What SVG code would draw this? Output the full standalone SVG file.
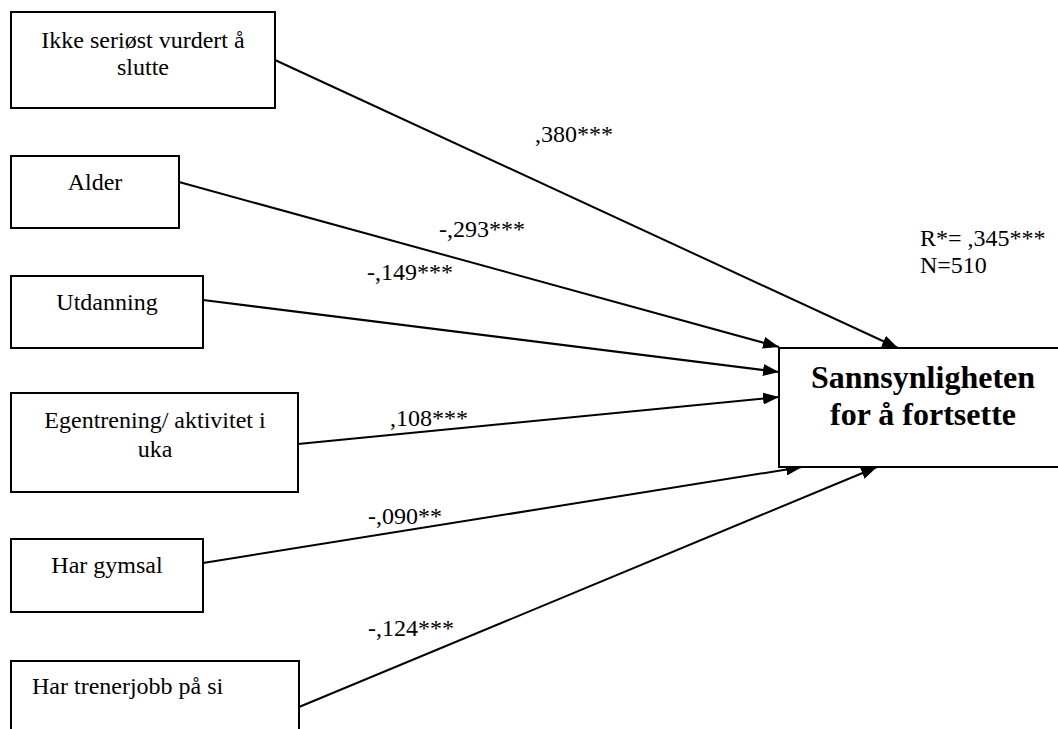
<svg xmlns="http://www.w3.org/2000/svg" width="1058" height="729" viewBox="0 0 1058 729">
  <style>
    .box { fill: #ffffff; stroke: #000000; stroke-width: 2; }
    .lbl { font-family: "Liberation Serif", "Times New Roman", serif; font-size: 24px; fill: #000000; }
    .mid { text-anchor: middle; }
    .big { font-family: "Liberation Serif", "Times New Roman", serif; font-size: 32px; font-weight: bold; text-anchor: middle; fill: #000000; }
    .edge { stroke: #000000; stroke-width: 2; fill: none; marker-end: url(#head); }
  </style>
  <defs>
    <marker id="head" viewBox="0 0 16 12" refX="16" refY="6" markerWidth="16" markerHeight="12" markerUnits="userSpaceOnUse" orient="auto">
      <path d="M0,0 L16,6 L0,12 Z" fill="#000000"/>
    </marker>
  </defs>
  <rect width="1058" height="729" fill="#ffffff"/>

  <g id="connectors">
    <line class="edge" x1="275" y1="60" x2="898" y2="348"/>
    <line class="edge" x1="179" y1="182" x2="779" y2="347"/>
    <line class="edge" x1="203" y1="300" x2="779" y2="372"/>
    <line class="edge" x1="298" y1="444" x2="779" y2="397"/>
    <line class="edge" x1="203" y1="563" x2="802" y2="467"/>
    <line class="edge" x1="299" y1="707" x2="877" y2="467"/>
  </g>

  <g id="coefficients">
    <text class="lbl" x="535" y="142">,380***</text>
    <text class="lbl" x="439" y="237">-,293***</text>
    <text class="lbl" x="367" y="280">-,149***</text>
    <text class="lbl" x="390" y="426">,108***</text>
    <text class="lbl" x="368" y="524">-,090**</text>
    <text class="lbl" x="368" y="636">-,124***</text>
  </g>

  <g id="node-ikke">
    <rect class="box" x="11" y="12" width="264" height="96"/>
    <text class="lbl mid" x="143" y="48">Ikke seriøst vurdert å</text>
    <text class="lbl mid" x="143" y="75">slutte</text>
  </g>

  <g id="node-alder">
    <rect class="box" x="11" y="156" width="168" height="72"/>
    <text class="lbl mid" x="95" y="190">Alder</text>
  </g>

  <g id="node-utdanning">
    <rect class="box" x="11" y="276" width="192" height="72"/>
    <text class="lbl mid" x="107" y="310">Utdanning</text>
  </g>

  <g id="node-egentrening">
    <rect class="box" x="11" y="393" width="287" height="99"/>
    <text class="lbl mid" x="155" y="428">Egentrening/ aktivitet i</text>
    <text class="lbl mid" x="155" y="457">uka</text>
  </g>

  <g id="node-gymsal">
    <rect class="box" x="11" y="539" width="192" height="73"/>
    <text class="lbl mid" x="107" y="573">Har gymsal</text>
  </g>

  <g id="node-trenerjobb">
    <rect class="box" x="11" y="661" width="288" height="80"/>
    <text class="lbl" x="32" y="694">Har trenerjobb på si</text>
  </g>

  <g id="node-sannsynlighet">
    <rect class="box" x="779" y="348" width="290" height="119"/>
    <text class="big" x="923" y="388">Sannsynligheten</text>
    <text class="big" x="923" y="425">for å fortsette</text>
  </g>

  <g id="fit-stats">
    <text class="lbl" x="920" y="246">R*= ,345***</text>
    <text class="lbl" x="920" y="273">N=510</text>
  </g>
</svg>
